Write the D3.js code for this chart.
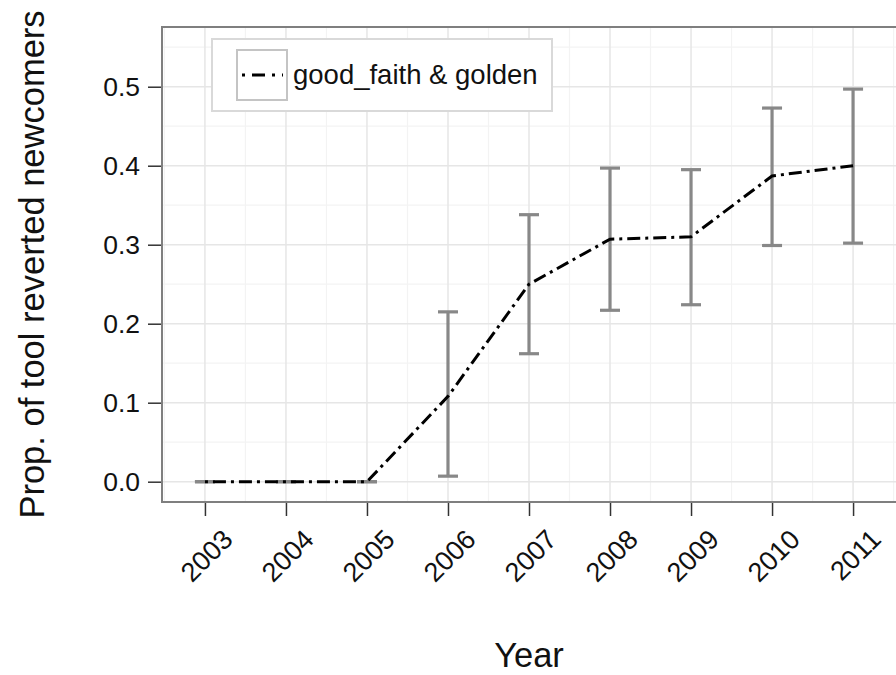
<!DOCTYPE html>
<html>
<head>
<meta charset="utf-8">
<script src="https://cdn.jsdelivr.net/npm/d3@7"></script>
<style>
  body { margin: 0; background: #fff; }
  text { font-family: "Liberation Sans", Arial, sans-serif; }
</style>
</head>
<body>
<svg id="chart"></svg>
<script>
/* chart data */
var years = [2003, 2004, 2005, 2006, 2007, 2008, 2009, 2010, 2011];
var prop = [0, 0, 0, 0.108, 0.250, 0.307, 0.310, 0.387, 0.400];
var lower = [0, 0, 0, 0.007, 0.162, 0.217, 0.224, 0.299, 0.302];
var upper = [0, 0, 0, 0.215, 0.338, 0.397, 0.395, 0.473, 0.497];
var yTicks = [0.0, 0.1, 0.2, 0.3, 0.4, 0.5];
var yMinor = [0.05, 0.15, 0.25, 0.35, 0.45, 0.55];
var seriesName = 'good_faith & golden';

var width = 896;
var height = 675;
var panel = {left: 162, top: 27, right: 896, bottom: 502};

var svg = d3.select('#chart')
    .attr('width', width)
    .attr('height', height);

var x = d3.scaleLinear()
    .domain([2002.47, 2011.53])
    .range([panel.left, panel.right]);

var y = d3.scaleLinear()
    .domain([-0.0257, 0.5756])
    .range([panel.bottom, panel.top]);

/* panel background + grid */
svg.append('rect')
    .attr('x', panel.left).attr('y', panel.top)
    .attr('width', panel.right - panel.left)
    .attr('height', panel.bottom - panel.top)
    .attr('fill', '#fff');

var xMinor = years.map(function(d){ return d + 0.5; });
xMinor.unshift(2002.5);

svg.append('g').selectAll('line')
    .data(xMinor)
    .enter().append('line')
    .attr('x1', function(d){ return x(d); })
    .attr('x2', function(d){ return x(d); })
    .attr('y1', panel.top).attr('y2', panel.bottom)
    .attr('stroke', '#f3f3f3').attr('stroke-width', 1.2);

svg.append('g').selectAll('line')
    .data(yMinor)
    .enter().append('line')
    .attr('x1', panel.left).attr('x2', panel.right)
    .attr('y1', function(d){ return y(d); })
    .attr('y2', function(d){ return y(d); })
    .attr('stroke', '#f3f3f3').attr('stroke-width', 1.2);

svg.append('g').selectAll('line')
    .data(years)
    .enter().append('line')
    .attr('x1', function(d){ return x(d); })
    .attr('x2', function(d){ return x(d); })
    .attr('y1', panel.top).attr('y2', panel.bottom)
    .attr('stroke', '#e6e6e6').attr('stroke-width', 1.5);

svg.append('g').selectAll('line')
    .data(yTicks)
    .enter().append('line')
    .attr('x1', panel.left).attr('x2', panel.right)
    .attr('y1', function(d){ return y(d); })
    .attr('y2', function(d){ return y(d); })
    .attr('stroke', '#e6e6e6').attr('stroke-width', 1.5);

/* error bars */
var bars = svg.append('g')
    .attr('stroke', '#888')
    .attr('stroke-width', 3.2)
    .attr('fill', 'none');

years.forEach(function(yr, i){
    var cx = x(yr);
    bars.append('line')
        .attr('x1', cx).attr('x2', cx)
        .attr('y1', y(lower[i])).attr('y2', y(upper[i]));
    bars.append('line')
        .attr('x1', cx - 10).attr('x2', cx + 10)
        .attr('y1', y(lower[i])).attr('y2', y(lower[i]));
    bars.append('line')
        .attr('x1', cx - 10).attr('x2', cx + 10)
        .attr('y1', y(upper[i])).attr('y2', y(upper[i]));
});

/* the line */
var line = d3.line()
    .x(function(d, i){ return x(years[i]); })
    .y(function(d){ return y(d); });

svg.append('path')
    .datum(prop)
    .attr('d', line)
    .attr('fill', 'none')
    .attr('stroke', '#000')
    .attr('stroke-width', 3)
    .attr('stroke-dasharray', '3,5,13,5');

/* panel border (right side falls off the picture) */
svg.append('path')
    .attr('d', 'M' + panel.right + ',' + panel.top + 'H' + panel.left + 'V' + panel.bottom + 'H' + panel.right)
    .attr('fill', 'none')
    .attr('stroke', '#7f7f7f')
    .attr('stroke-width', 2);

/* axes */
var yAxis = d3.axisLeft(y)
    .tickValues(yTicks)
    .tickSize(13)
    .tickPadding(8)
    .tickFormat(d3.format('.1f'));

var gy = svg.append('g')
    .attr('transform', 'translate(' + (panel.left - 1) + ',0)')
    .call(yAxis);
gy.select('.domain').remove();
gy.selectAll('line').attr('stroke', '#333').attr('stroke-width', 1.5);
gy.selectAll('text')
    .attr('font-size', 26.5)
    .attr('fill', '#111')
    .attr('font-family', '"Liberation Sans", Arial, sans-serif');

var xAxis = d3.axisBottom(x)
    .tickValues(years)
    .tickSize(13)
    .tickFormat(d3.format('d'));

var gx = svg.append('g')
    .attr('transform', 'translate(0,' + (panel.bottom + 1) + ')')
    .call(xAxis);
gx.select('.domain').remove();
gx.selectAll('line').attr('stroke', '#333').attr('stroke-width', 1.5);
gx.selectAll('text')
    .attr('font-size', 27)
    .attr('fill', '#111')
    .attr('font-family', '"Liberation Sans", Arial, sans-serif')
    .attr('text-anchor', 'end')
    .attr('dy', null)
    .attr('y', 0)
    .attr('transform', 'translate(29,38) rotate(-45)');

/* axis titles */
svg.append('text')
    .attr('x', (panel.left + panel.right) / 2)
    .attr('y', 667)
    .attr('text-anchor', 'middle')
    .attr('font-size', 34.5)
    .attr('fill', '#111')
    .text('Year');

svg.append('text')
    .attr('transform', 'translate(44,' + ((panel.top + panel.bottom) / 2) + ') rotate(-90)')
    .attr('text-anchor', 'middle')
    .attr('font-size', 34.5)
    .attr('fill', '#111')
    .text('Prop. of tool reverted newcomers');

/* legend */
var legend = svg.append('g');
legend.append('rect')
    .attr('x', 212).attr('y', 39)
    .attr('width', 340).attr('height', 72)
    .attr('fill', '#fff')
    .attr('stroke', '#d9d9d9')
    .attr('stroke-width', 2);
legend.append('rect')
    .attr('x', 237).attr('y', 50)
    .attr('width', 50).attr('height', 50)
    .attr('fill', '#fff')
    .attr('stroke', '#c4c4c4')
    .attr('stroke-width', 2);
legend.append('line')
    .attr('x1', 242).attr('x2', 283)
    .attr('y1', 75).attr('y2', 75)
    .attr('stroke', '#000')
    .attr('stroke-width', 3)
    .attr('stroke-dasharray', '3,7,13,7');
legend.append('text')
    .attr('x', 293).attr('y', 84)
    .attr('font-size', 27.5)
    .attr('fill', '#111')
    .text(seriesName);
</script>
</body>
</html>
